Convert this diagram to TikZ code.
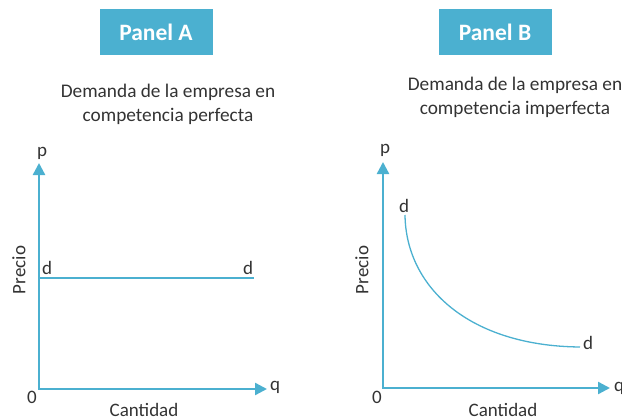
\documentclass[tikz,border=0pt]{standalone}
\usepackage{fontspec}
\setmainfont{Carlito}
\usepackage{tikz}
\usetikzlibrary{arrows.meta}
\definecolor{demblue}{RGB}{75,176,208}
\definecolor{txtgray}{RGB}{51,51,51}
\newcommand{\PB}[0]{demblue}
\newcommand{\PT}[0]{txtgray}

\begin{document}
\begin{tikzpicture}[x=1pt, y=-1pt,
  panel/.style={fill=\PB, text=white, font=\fontsize{23.5}{27}\selectfont\bfseries,
    minimum width=113pt, minimum height=46pt, inner sep=0pt},
  title/.style={align=center, font=\fontsize{19.3}{24}\selectfont, text=\PT, inner sep=0pt},
  lbl/.style={font=\fontsize{19}{22}\selectfont, text=\PT, inner sep=0pt},
  axis/.style={draw=\PB, line width=2.4pt,
    {Triangle[length=12pt,width=12pt]}-{Triangle[length=12pt,width=12pt]}},
  dem/.style={draw=\PB, line width=1.3pt}]

  \useasboundingbox (0,0) rectangle (622,420);

  %% Panel A
  \node[panel] (panA) at (156,32) {Panel A};
  \node[title] (titA) at (168,104) {Demanda de la empresa en\\competencia perfecta};

  \coordinate (oA) at (39,389);
  \coordinate (pA) at (39,163);
  \coordinate (qA) at (267,389);
  \draw[axis] (pA) -- (oA) -- (qA);

  \node[lbl] (labpA) at (42,153) {p};
  \node[lbl] (labqA) at (275,387) {q};
  \node[lbl] (zeroA) at (32,397) {0};
  \node[lbl] (cantA) at (144,410) {Cantidad};
  \node[lbl, rotate=90] (precA) at (19,270) {Precio};

  \coordinate (dA1) at (39,278);
  \coordinate (dA2) at (254,278);
  \draw[dem] (dA1) -- (dA2); %% demanda horizontal
  \node[lbl] (labdA1) at (47,268) {d};
  \node[lbl] (labdA2) at (248,268) {d};

  %% Panel B
  \node[panel] (panB) at (495,32) {Panel B};
  \node[title] (titB) at (515,97) {Demanda de la empresa en\\competencia imperfecta};

  \coordinate (oB) at (383,388);
  \coordinate (pB) at (383,162);
  \coordinate (qB) at (610,388);
  \draw[axis] (pB) -- (oB) -- (qB);

  \node[lbl] (labpB) at (385,150) {p};
  \node[lbl] (labqB) at (619,388) {q};
  \node[lbl] (zeroB) at (377,397) {0};
  \node[lbl] (cantB) at (503,410) {Cantidad};
  \node[lbl, rotate=90] (precB) at (362,270) {Precio};

  \coordinate (dB1) at (405,215);
  \coordinate (dB2) at (580,347);
  \draw[dem] (dB1) .. controls (406,288) and (470,346) .. (dB2); %% demanda con pendiente
  \node[lbl] (labdB1) at (404,206) {d};
  \node[lbl] (labdB2) at (588,343) {d};

\end{tikzpicture}
\end{document}
